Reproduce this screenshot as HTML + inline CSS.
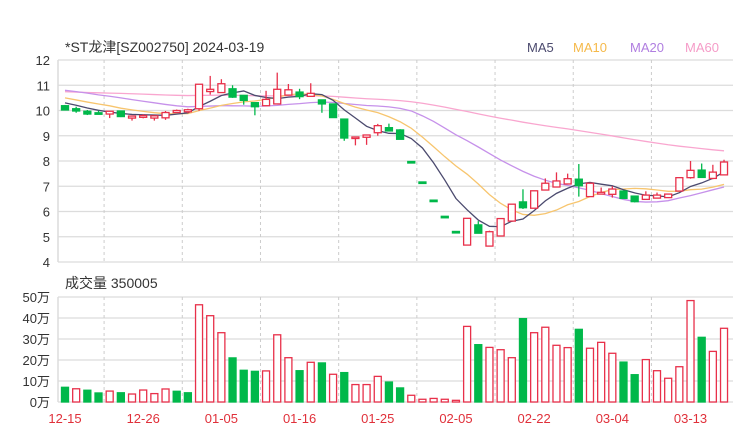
<!DOCTYPE html>
<html><head><meta charset="utf-8"><style>
body{margin:0;background:#fff;}
svg text{font-family:"Liberation Sans","Noto Sans CJK SC",sans-serif;}
</style></head><body>
<svg id="chart" width="740" height="440" viewBox="0 0 740 440" xmlns="http://www.w3.org/2000/svg">
<rect width="740" height="440" fill="#fff"/>
<text x="65" y="52" font-size="14" fill="#333">*ST龙津[SZ002750] 2024-03-19</text>
<g font-size="13">
<text x="527" y="52" fill="#4b4a6e">MA5</text>
<text x="573" y="52" fill="#f5b94a">MA10</text>
<text x="630" y="52" fill="#b07ee0">MA20</text>
<text x="685" y="52" fill="#f59cc8">MA60</text>
</g>
<text x="65" y="288" font-size="14" fill="#333">成交量 350005</text>
<g id="grid"></g><g id="marks"></g>
</svg>
<script>
const closes=[10.02,9.98,9.86,9.85,9.97,9.76,9.78,9.80,9.79,9.92,10.00,10.03,11.04,10.84,11.06,10.53,10.40,10.15,10.44,10.84,10.82,10.55,10.68,10.26,9.72,8.91,8.95,9.03,9.40,9.19,8.86,7.97,7.16,6.44,5.80,5.20,5.73,5.14,5.20,5.72,6.29,6.15,6.82,7.12,7.21,7.30,7.02,7.12,6.76,6.89,6.52,6.39,6.65,6.65,6.69,7.34,7.63,7.35,7.56,7.96];
const opens=[10.19,10.07,9.97,9.91,9.86,9.98,9.70,9.73,9.70,9.71,9.92,9.95,10.07,10.75,10.71,10.86,10.60,10.31,10.19,10.26,10.61,10.73,10.56,10.42,10.26,9.66,8.95,8.94,9.12,9.32,9.23,7.98,7.17,6.45,5.81,5.21,4.67,5.47,4.63,5.03,5.62,6.38,6.13,6.85,6.97,7.09,7.28,6.59,6.69,6.68,6.81,6.61,6.48,6.53,6.55,6.81,7.34,7.64,7.31,7.45];
const highs=[10.22,10.15,10.02,9.99,9.97,9.99,9.78,9.85,9.79,9.98,10.04,10.07,11.04,11.37,11.24,11.00,10.60,10.31,10.78,11.50,11.05,10.86,11.08,10.42,10.26,9.66,8.97,9.03,9.47,9.48,9.26,7.98,7.17,6.45,5.81,5.21,5.73,5.62,5.24,5.72,6.29,6.88,6.82,7.31,7.55,7.50,7.88,7.12,6.95,7.00,6.81,6.61,6.80,6.75,6.69,7.36,8.00,7.90,7.85,8.05];
const lows=[10.00,9.91,9.82,9.85,9.70,9.74,9.60,9.69,9.60,9.63,9.92,9.90,9.99,10.63,10.71,10.50,10.23,9.81,10.19,10.26,10.61,10.45,10.56,9.91,9.72,8.80,8.62,8.64,9.00,9.19,8.86,7.97,7.16,6.44,5.80,5.20,4.67,5.14,4.63,5.03,5.62,6.10,6.13,6.85,6.97,7.09,6.59,6.59,6.69,6.55,6.50,6.36,6.46,6.53,6.55,6.81,7.30,7.35,7.28,7.45];
const volumes=[7.0,6.3,5.6,4.3,5.2,4.4,3.8,5.7,4.0,6.2,5.1,4.4,46.3,41.1,33,21,15.1,14.6,14.8,32,21.1,14.9,18.9,18.6,13.2,14,8.3,8.3,12.2,9.5,6.7,3.2,1.3,1.7,1.3,0.8,36,27.3,26,24.9,21.1,39.7,33,35.6,27,25.9,34.6,25.6,28.4,23.2,19,13,20.2,14.9,11.3,16.8,48.3,30.8,24.1,35.1];
const volUp=[0,1,0,0,1,0,1,1,1,1,0,0,1,1,1,0,0,0,1,1,1,0,1,0,1,0,1,1,1,0,0,1,1,1,1,1,1,0,1,1,1,0,1,1,1,1,0,1,1,1,0,0,1,1,1,1,1,0,1,1];
const priorCloses=[10.9,10.8,10.7,10.6,10.5,10.6,10.7,10.8,10.9,10.8,10.7,10.6,10.6,10.7,10.8,10.9,10.8,10.7,10.6,10.7,10.8,10.7,10.6,10.7,10.8,10.9,10.8,10.7,10.6,10.6,10.7,10.8,10.7,10.6,10.7,10.8,10.7,10.6,10.7,10.8,11.0,11.1,11.2,11.1,11.0,11.2,11.1,11.0,11.2,11.1,10.8,10.7,10.6,10.7,10.7,10.45,10.4,10.3,10.33];
const dateLabels=["12-15","12-26","01-05","01-16","01-25","02-05","02-22","03-04","03-13"];
const priceTicks=[4,5,6,7,8,9,10,11,12];
const volTicks=[0,10,20,30,40,50];

const NS="http://www.w3.org/2000/svg";
const L=58,R=733,PT=60,PB=262,VT=297,VB=402;
const xOf=i=>65+i*11.17;
const yP=v=>PT+(12-v)*(PB-PT)/8;
const yV=v=>VB-v*(VB-VT)/50;
const grid=document.getElementById('grid'),marks=document.getElementById('marks');
function mk(tag,attrs,parent){const e=document.createElementNS(NS,tag);for(const k in attrs)e.setAttribute(k,attrs[k]);parent.appendChild(e);return e;}

priceTicks.forEach(t=>{
  const l=mk('line',{x1:L,x2:R,y1:yP(t),y2:yP(t),stroke:'#dcdcdc','stroke-width':1.2},grid);
  
  
  const tx=mk('text',{x:50,y:yP(t)+5,'text-anchor':'end','font-size':13,fill:'#333'},grid);
  
  
  tx.textContent=t;
});
volTicks.forEach(t=>{
  const l=mk('line',{x1:L,x2:R,y1:yV(t),y2:yV(t),stroke:'#dcdcdc','stroke-width':1.2},grid);
  
  
  const tx=mk('text',{x:50,y:yV(t)+5,'text-anchor':'end','font-size':13,fill:'#333'},grid);
  
  
  tx.textContent=t+'万';
});
[[PT,PB],[VT,VB]].forEach(([a,b])=>{
  const l=mk('line',{x1:L,x2:L,y1:a,y2:b,stroke:'#dcdcdc','stroke-width':1.5},grid);
  
  
  for(let k=0;k<8;k++){
    const x=xOf(3.5+k*7);
    const d=mk('line',{x1:x,x2:x,y1:a,y2:b,stroke:'#ccc','stroke-dasharray':'3,3'},grid);
    
    
  }
});
dateLabels.forEach((d,k)=>{
  const tx=mk('text',{x:xOf(k*7),y:423,'text-anchor':'middle','font-size':13,fill:'#e0303a'},grid);
  
  
  tx.textContent=d;
});

const all=priorCloses.concat(closes);
const P=priorCloses.length;
function ma(n){return closes.map((c,i)=>{let s=0;for(let j=0;j<n;j++)s+=all[P+i-j];return s/n;});}
[[60,'#f9a6cf'],[20,'#c691ea'],[10,'#f7c56e'],[5,'#4b4a6e']].forEach(([n,col])=>{
  const v=ma(n);
  const p=mk('polyline',{points:v.map((m,i)=>xOf(i)+','+yP(m)).join(' '),fill:'none',stroke:col,'stroke-width':1.3},marks);
  
  
});

closes.forEach((c,i)=>{
  const o=opens[i],up=c>=o,x=xOf(i),col=up?'#e8304a':'#00b84a';
  const w=mk('line',{x1:x,x2:x,y1:yP(highs[i]),y2:yP(lows[i]),stroke:col,'stroke-width':1.3},marks);
  
  
  const top=yP(Math.max(o,c)),h=Math.max(1.5,yP(Math.min(o,c))-top);
  const b=mk('rect',{x:x-3.5,y:top,width:7,height:h,fill:up?'#fff':col,stroke:col,'stroke-width':1.3},marks);
  
  
  const vu=volUp[i],vc=vu?'#e8304a':'#00b84a';
  const vb=mk('rect',{x:x-3.5,y:yV(volumes[i]),width:7,height:VB-yV(volumes[i]),fill:vu?'#fff':vc,stroke:vc,'stroke-width':1.3},marks);
  
  
});
</script>
</body></html>
